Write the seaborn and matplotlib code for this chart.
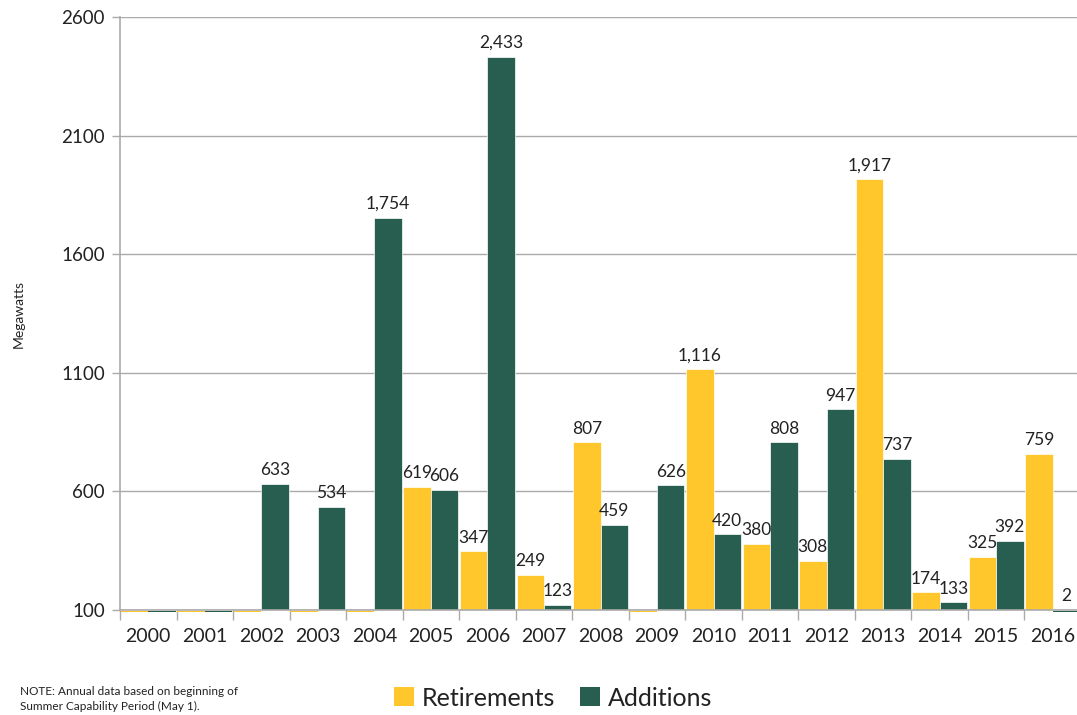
import matplotlib
matplotlib.use("Agg")
import matplotlib.pyplot as plt
import seaborn as sns
import pandas as pd
from matplotlib.patches import Patch
from matplotlib.ticker import FixedLocator

years = [str(y) for y in range(2000, 2017)]
retirements = [0, 0, 0, 0, 0, 619, 347, 249, 807, 0, 1116, 380, 308, 1917, 174, 325, 759]
additions = [0, 0, 633, 534, 1754, 606, 2433, 123, 459, 626, 420, 808, 947, 737, 133, 392, 2]
series_names = ["Retirements", "Additions"]
colors = ["#FFC72C", "#285E4F"]
y_ticks = [100, 600, 1100, 1600, 2100, 2600]

df = pd.DataFrame({
    "Year": years * 2,
    "Megawatts": retirements + additions,
    "Series": [series_names[0]] * len(years) + [series_names[1]] * len(years),
})

sns.set_theme(style="white")
plt.rcParams["font.family"] = ["Lato", "DejaVu Sans"]

fig = plt.figure(figsize=(10.77, 7.15), dpi=100)
ax = fig.add_axes([120 / 1077, 1 - 610 / 715, (1081 - 120) / 1077, (610 - 17) / 715])

sns.barplot(data=df, x="Year", y="Megawatts", hue="Series", palette=colors,
            order=years, hue_order=series_names, width=0.97, gap=0.0,
            ax=ax, legend=False, saturation=1, errorbar=None)

ymin, ymax = y_ticks[0], y_ticks[-1]
ax.set_ylim(ymin, ymax)
ax.set_xlim(-0.5, len(years) - 0.5)

# bars whose value lies below the axis minimum appear as hairlines under the baseline
for p in ax.patches:
    p.set_edgecolor("white")
    p.set_linewidth(0.5)
    h = p.get_height()
    if h < ymin:
        p.set_y(ymin - 10)
        p.set_height(5)
        p.set_linewidth(0)
        p.set_clip_on(False)
        p.set_zorder(5)

# value labels
vals = [retirements, additions]
for s_i, cont in enumerate(ax.containers):
    for b_i, bar in enumerate(cont):
        v = vals[s_i][b_i]
        if v <= 0:
            continue
        x = bar.get_x() + bar.get_width() / 2
        y = max(v, ymin)
        ax.annotate(f"{v:,}", (x, y), xytext=(0, 4), textcoords="offset points",
                    ha="center", va="bottom", fontsize=12.5, color="#222222")

ax.set_yticks(y_ticks)
ax.set_yticklabels([str(t) for t in y_ticks], fontsize=13.5, color="#222222")
ax.yaxis.grid(True, color="#AAAAAA", linewidth=1)
ax.set_axisbelow(True)
ax.tick_params(axis="y", length=6, color="#AAAAAA", width=1, pad=5, left=True)

ax.set_xticks(range(len(years)))
ax.set_xticklabels(years, fontsize=14, color="#222222")
ax.xaxis.set_minor_locator(FixedLocator([i - 0.5 for i in range(len(years) + 1)]))
ax.tick_params(axis="x", which="major", length=0, pad=13)
ax.tick_params(axis="x", which="minor", length=7, color="#AAAAAA", width=1, bottom=True)

for side in ["top", "right"]:
    ax.spines[side].set_visible(False)
ax.spines["left"].set_color("#AAAAAA")
ax.spines["bottom"].set_color("#AAAAAA")
ax.spines["left"].set_linewidth(1.2)
ax.spines["bottom"].set_linewidth(1.2)

ax.set_xlabel("")
ax.set_ylabel("Megawatts", fontsize=10, color="#222222", labelpad=26)

handles = [Patch(facecolor=c, edgecolor="none") for c in colors]
fig.legend(handles, series_names, loc="center", bbox_to_anchor=(553 / 1077, 1 - 698 / 715),
           ncol=2, frameon=False, fontsize=18, handlelength=0.8, handleheight=0.8,
           handletextpad=0.3, columnspacing=1.0, labelcolor="#222222")

fig.text(20 / 1077, 1 - 699 / 715, "NOTE: Annual data based on beginning of\nSummer Capability Period (May 1).",
         fontsize=8.5, color="#222222", va="center", ha="left", linespacing=1.45)

fig.savefig("out.png", dpi=100)
